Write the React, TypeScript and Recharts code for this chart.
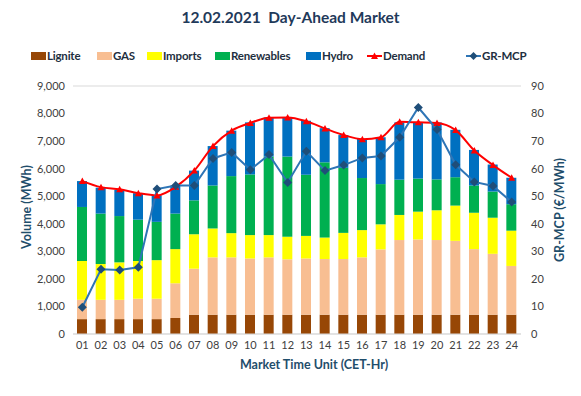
import {
  ComposedChart,
  Bar,
  Line,
  XAxis,
  YAxis,
  CartesianGrid,
} from 'recharts';

const hours = [
  '01', '02', '03', '04', '05', '06', '07', '08', '09', '10', '11', '12',
  '13', '14', '15', '16', '17', '18', '19', '20', '21', '22', '23', '24',
];
const lignite = [540, 540, 540, 540, 540, 580, 700, 700, 700, 700, 700, 700, 700, 700, 700, 700, 700, 700, 700, 700, 700, 700, 700, 700];
const gas = [700, 700, 700, 740, 740, 1260, 1670, 2080, 2080, 2040, 2080, 2010, 2040, 2020, 2020, 2080, 2370, 2710, 2730, 2710, 2680, 2380, 2210, 1770];
const imports = [1410, 1300, 1360, 1370, 1400, 1240, 1250, 1050, 880, 850, 810, 820, 820, 780, 950, 990, 910, 910, 1010, 1080, 1280, 1320, 1310, 1280];
const renewables = [1960, 1830, 1680, 1500, 1390, 1290, 1230, 1560, 2070, 2200, 2850, 2910, 2220, 2730, 2360, 1890, 1460, 1280, 1200, 1120, 1030, 990, 950, 960];
const hydro = [940, 940, 950, 960, 960, 1020, 1080, 1430, 1650, 1890, 1420, 1420, 1960, 1240, 1190, 1420, 1700, 2080, 2040, 2070, 1720, 1290, 980, 960];
const demand = [5550, 5330, 5250, 5110, 5030, 5340, 5930, 6820, 7380, 7660, 7850, 7860, 7720, 7460, 7220, 7070, 7140, 7700, 7680, 7660, 7400, 6660, 6130, 5670];
const mcp = [9.7, 23.5, 23.2, 24.2, 52.6, 53.9, 53.9, 63.7, 65.9, 59.6, 65.1, 55.0, 66.3, 59.3, 61.3, 63.9, 64.6, 71.4, 82.2, 74.2, 61.4, 55.2, 53.7, 47.9];

const volumeTicks = [0, 1000, 2000, 3000, 4000, 5000, 6000, 7000, 8000, 9000];
const priceTicks = [0, 10, 20, 30, 40, 50, 60, 70, 80, 90];

const data = hours.map((h, i) => ({
  hour: h,
  lignite: lignite[i],
  gas: gas[i],
  imports: imports[i],
  renewables: renewables[i],
  hydro: hydro[i],
  demand: demand[i],
  mcp: mcp[i],
}));

const FONT = 'Lato, "Open Sans", sans-serif';
const TITLE = '#1f3a5a';
const AXIS_TITLE = '#1f4e6b';
const TICK = '#404040';
const GRID = '#d9d9d9';

const C = {
  lignite: '#974706',
  gas: '#f8be92',
  imports: '#ffff00',
  renewables: '#00b050',
  hydro: '#0070c0',
  demand: '#ff0000',
  mcp: '#2e75b6',
  mcpDot: '#1f4e79',
};

const legendItems = [
  { name: 'Lignite', color: C.lignite, kind: 'box', x: 31 },
  { name: 'GAS', color: C.gas, kind: 'box', x: 97 },
  { name: 'Imports', color: C.imports, kind: 'box', x: 147 },
  { name: 'Renewables', color: C.renewables, kind: 'box', x: 215 },
  { name: 'Hydro', color: C.hydro, kind: 'box', x: 306 },
  { name: 'Demand', color: C.demand, kind: 'tri', x: 367 },
  { name: 'GR-MCP', color: C.mcp, kind: 'dia', x: 466 },
];

function Triangle(props: any) {
  const { cx, cy } = props;
  if (cx == null || cy == null) return null;
  return <path d={`M${cx},${cy - 3.5} L${cx + 3.5},${cy + 3} L${cx - 3.5},${cy + 3} Z`} fill={C.demand} />;
}

function Diamond(props: any) {
  const { cx, cy } = props;
  if (cx == null || cy == null) return null;
  return <path d={`M${cx},${cy - 4.5} L${cx + 4.5},${cy} L${cx},${cy + 4.5} L${cx - 4.5},${cy} Z`} fill={C.mcpDot} />;
}

function LegendMark({ kind, color }: { kind: string; color: string }) {
  if (kind === 'box') {
    return <div style={{ width: 15, height: 8, background: color }} />;
  }
  return (
    <svg width={15} height={10}>
      <line x1={0} y1={5} x2={15} y2={5} stroke={color} strokeWidth={2} />
      {kind === 'tri' ? (
        <path d="M7.5,1.5 L11,8 L4,8 Z" fill={color} />
      ) : (
        <path d="M7.5,1 L11.5,5 L7.5,9 L3.5,5 Z" fill={C.mcpDot} />
      )}
    </svg>
  );
}

export default function App() {
  return (
    <div style={{ position: 'absolute', left: 0, top: 0, width: 581, height: 396, background: '#fff', fontFamily: FONT }}>
      <div
        style={{
          position: 'absolute',
          top: 8,
          width: 581,
          textAlign: 'center',
          fontSize: 15.5,
          fontWeight: 700,
          color: TITLE,
          whiteSpace: 'pre',
        }}
      >
        {'12.02.2021  Day-Ahead Market'}
      </div>
      {legendItems.map((it) => (
        <div
          key={it.name}
          style={{
            position: 'absolute',
            left: it.x,
            top: 49,
            display: 'flex',
            alignItems: 'center',
            gap: 1,
            fontSize: 11.5,
            letterSpacing: -0.2,
            fontWeight: 700,
            color: '#1e2f40',
          }}
        >
          <LegendMark kind={it.kind} color={it.color} />
          <span>{it.name}</span>
        </div>
      ))}
      <ComposedChart
        width={581}
        height={396}
        data={data}
        margin={{ top: 86, right: 0, bottom: 0, left: 0 }}
        style={{ position: 'absolute', left: 0, top: 0 }}
      >
        <CartesianGrid vertical={false} stroke={GRID} />
        <XAxis
          dataKey="hour"
          height={62}
          tickLine={false}
          tickSize={0}
          tickMargin={7}
          axisLine={{ stroke: GRID }}
          interval={0}
          tick={{ fontSize: 11, fill: TICK, fontFamily: FONT }}
          label={{
            value: 'Market Time Unit (CET-Hr)',
            position: 'insideBottom',
            offset: 27,
            dx: 17,
            style: { fontSize: 12.5, fontWeight: 700, fill: AXIS_TITLE, fontFamily: FONT },
          }}
        />
        <YAxis
          yAxisId="left"
          width={73}
          domain={[0, 9000]}
          ticks={volumeTicks}
          tickLine={false}
          axisLine={false}
          tickSize={0}
          tickMargin={8}
          tickFormatter={(v) => Number(v).toLocaleString('en-US')}
          tick={{ fontSize: 11, fill: TICK, fontFamily: FONT }}
          label={{
            value: 'Volume (MWh)',
            angle: -90,
            position: 'center',
            dx: -10,
            dy: -3,
            style: { fontSize: 12.5, fontWeight: 700, fill: AXIS_TITLE, fontFamily: FONT },
          }}
        />
        <YAxis
          yAxisId="right"
          orientation="right"
          width={60}
          domain={[0, 90]}
          ticks={priceTicks}
          tickLine={false}
          axisLine={false}
          tickSize={0}
          tickMargin={10}
          tick={{ fontSize: 11, fill: TICK, fontFamily: FONT }}
          label={{
            value: 'GR-MCP (€/MWh)',
            angle: -90,
            position: 'center',
            dx: 9,
            style: { fontSize: 12.5, fontWeight: 700, fill: AXIS_TITLE, fontFamily: FONT },
          }}
        />
        <Bar yAxisId="left" dataKey="lignite" stackId="a" fill={C.lignite} barSize={10} isAnimationActive={false} />
        <Bar yAxisId="left" dataKey="gas" stackId="a" fill={C.gas} barSize={10} isAnimationActive={false} />
        <Bar yAxisId="left" dataKey="imports" stackId="a" fill={C.imports} barSize={10} isAnimationActive={false} />
        <Bar yAxisId="left" dataKey="renewables" stackId="a" fill={C.renewables} barSize={10} isAnimationActive={false} />
        <Bar yAxisId="left" dataKey="hydro" stackId="a" fill={C.hydro} barSize={10} isAnimationActive={false} />
        <Line
          yAxisId="left"
          type="monotone"
          dataKey="demand"
          stroke={C.demand}
          strokeWidth={2}
          dot={<Triangle />}
          activeDot={false}
          isAnimationActive={false}
        />
        <Line
          yAxisId="right"
          type="linear"
          dataKey="mcp"
          stroke={C.mcp}
          strokeWidth={2}
          dot={<Diamond />}
          activeDot={false}
          isAnimationActive={false}
        />
      </ComposedChart>
    </div>
  );
}
